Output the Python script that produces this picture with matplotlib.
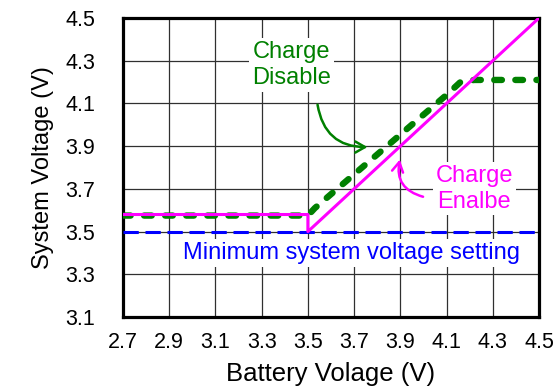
import matplotlib.pyplot as plt

plt.rcParams['font.family'] = ['Liberation Sans', 'DejaVu Sans']

# curvas de tensao do sistema em funcao da tensao da bateria
vbat_on = [2.7, 3.5, 3.5, 4.5]
vsys_on = [3.58, 3.58, 3.5, 4.5]

vbat_off = [2.7, 3.5, 3.53, 4.1, 4.16, 4.22, 4.5]
vsys_off = [3.575, 3.575, 3.61, 4.14, 4.2, 4.21, 4.21]

vbat_min = [2.7, 4.5]
vsys_min = [3.5, 3.5]

xticks = [2.7, 2.9, 3.1, 3.3, 3.5, 3.7, 3.9, 4.1, 4.3, 4.5]
yticks = [3.1, 3.3, 3.5, 3.7, 3.9, 4.1, 4.3, 4.5]

fig = plt.figure(figsize=(5.57, 3.89), dpi=100)
ax = fig.add_axes([0.2208, 0.185, 0.7469, 0.7687])

ax.plot(vbat_min, vsys_min, color='#0000ff', lw=2.2, dashes=(5, 2.2), zorder=3)
ax.plot(vbat_off, vsys_off, color='#008000', lw=4.6, dashes=(1.2, 2.1),
        dash_capstyle='round', zorder=4)
ax.plot(vbat_on, vsys_on, color='#ff00ff', lw=2.2, zorder=5)

ax.set_xlim(2.7, 4.5)
ax.set_ylim(3.1, 4.5)
ax.set_xticks(xticks)
ax.set_yticks(yticks)
ax.set_xticklabels([f'{v:.1f}' for v in xticks], fontsize=15.5)
ax.set_yticklabels([f'{v:.1f}' for v in yticks], fontsize=15.5)
ax.tick_params(axis='x', length=0, pad=11)
ax.tick_params(axis='y', length=0, pad=20)
ax.grid(True, color='#303030', lw=0.9)
ax.set_axisbelow(True)
for s in ax.spines.values():
    s.set_linewidth(2.3)

ax.set_xlabel('Battery Volage (V)', fontsize=18.5, labelpad=6)
ax.set_ylabel('System Voltage (V)', fontsize=17, labelpad=8)

caixa = dict(facecolor='white', edgecolor='none', pad=2)

ax.text(3.43, 4.28, 'Charge\nDisable', color='#008000', fontsize=17,
        ha='center', va='center', linespacing=1.2, bbox=caixa, zorder=2)
ax.annotate('', xy=(3.77, 3.896), xytext=(3.54, 4.107),
            arrowprops=dict(arrowstyle='->,head_length=0.7,head_width=0.4',
                            color='#008000', lw=1.8,
                            connectionstyle='arc3,rad=0.45'), zorder=6)

ax.text(4.22, 3.70, 'Charge\nEnalbe', color='#ff00ff', fontsize=17,
        ha='center', va='center', linespacing=1.2, bbox=caixa, zorder=2)
ax.annotate('', xy=(3.90, 3.85), xytext=(4.01, 3.66),
            arrowprops=dict(arrowstyle='->,head_length=0.7,head_width=0.4',
                            color='#ff00ff', lw=1.8,
                            connectionstyle='arc3,rad=-0.5'), zorder=6)

ax.text(3.69, 3.40, 'Minimum system voltage setting', color='#0000ff',
        fontsize=17, ha='center', va='center', bbox=caixa, zorder=2)

fig.savefig('out.png', dpi=100)
